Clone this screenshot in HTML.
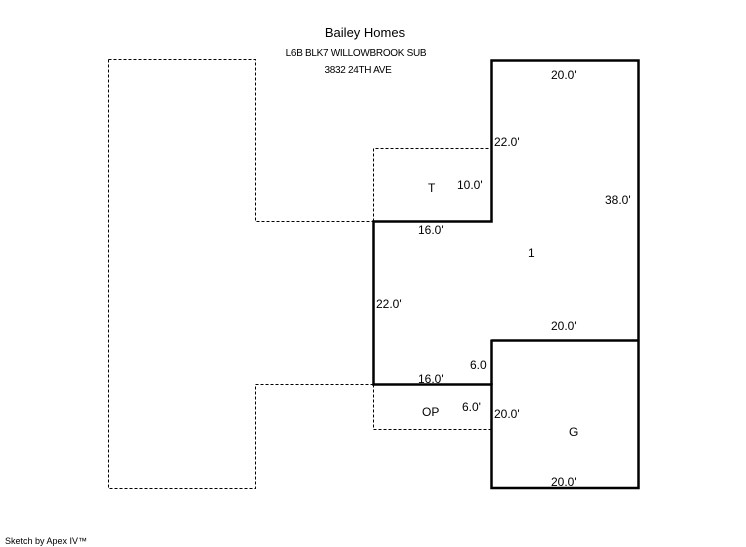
<!DOCTYPE html>
<html><head><meta charset="utf-8"><style>
html,body{margin:0;padding:0;background:#fff;}
svg{display:block;}
text{font-family:"Liberation Sans",Arial,sans-serif;fill:#000;}
</style></head><body>
<svg width="746" height="547" viewBox="0 0 746 547" xmlns="http://www.w3.org/2000/svg">
<g fill="none" stroke="#000" stroke-width="1" stroke-dasharray="3,2">
<path d="M108.5 59.5 H255.5 V221.5 H373.5"/>
<path d="M373.5 221.5 V148.5 H491.5"/>
<path d="M373.5 384.5 H255.5 V488.5 H108.5 V59.5"/>
<path d="M373.5 384.5 V429.5 H491.5"/>
</g>
<g fill="none" stroke="#000" stroke-width="2.5">
<path d="M491.5 60.5 H638.5 V488 H491.5 V384.5 H373.5 V221.5 H491.5 Z"/>
<path d="M491.5 340.5 H638.5"/>
<path d="M491.5 339.5 V385"/>
</g>
<text x="365" y="37" font-size="13" text-anchor="middle">Bailey Homes</text>
<text x="356" y="56" font-size="10" text-anchor="middle" letter-spacing="-0.3">L6B BLK7 WILLOWBROOK SUB</text>
<text x="358" y="73" font-size="10" text-anchor="middle" letter-spacing="-0.3">3832 24TH AVE</text>
<g font-size="12">
<text x="551" y="79">20.0'</text>
<text x="494" y="146">22.0'</text>
<text x="428" y="192">T</text>
<text x="457" y="189">10.0'</text>
<text x="605" y="204">38.0'</text>
<text x="418" y="234">16.0'</text>
<text x="528" y="257">1</text>
<text x="376" y="308">22.0'</text>
<text x="551" y="330">20.0'</text>
<text x="470" y="369">6.0</text>
<text x="418" y="383">16.0'</text>
<text x="462" y="411">6.0'</text>
<text x="422" y="416">OP</text>
<text x="494" y="418">20.0'</text>
<text x="569" y="436">G</text>
<text x="551" y="486">20.0'</text>
</g>
<text x="5" y="544" font-size="9">Sketch by Apex IV™</text>
</svg>
</body></html>
